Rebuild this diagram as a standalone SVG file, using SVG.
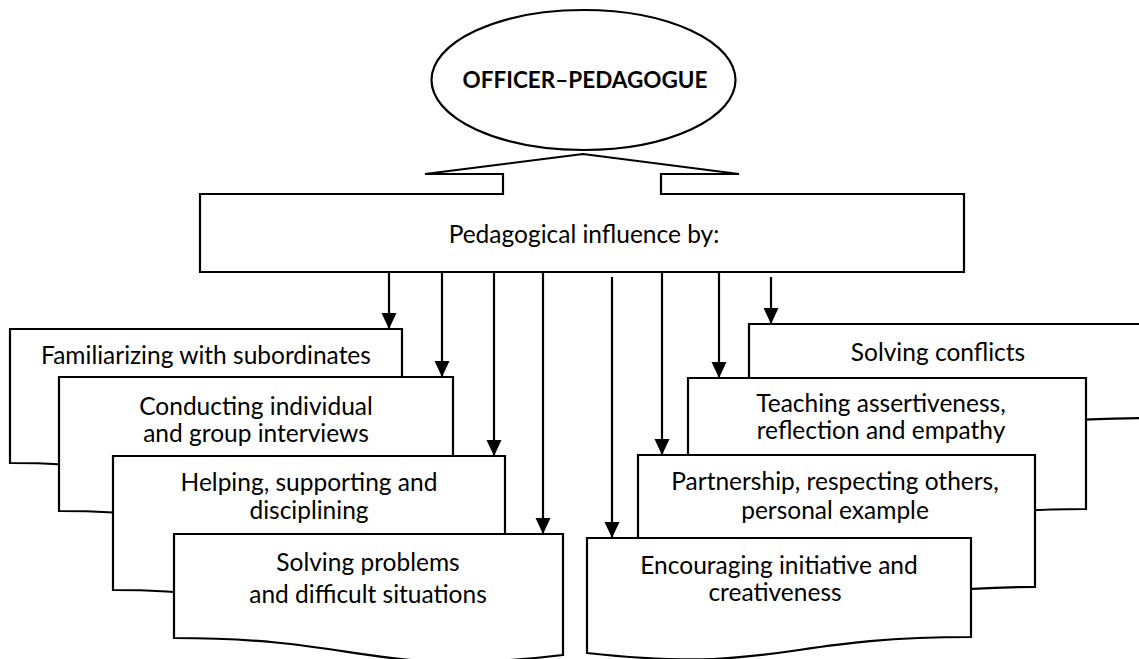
<svg xmlns="http://www.w3.org/2000/svg" width="1139" height="659" viewBox="0 0 1139 659">
  <style>
    .shape { fill: #fff; stroke: #000; stroke-width: 2.2; stroke-linejoin: miter; }
    .lbl { font-family: Lato, "Liberation Sans", sans-serif; font-size: 24.5px; fill: #000; text-anchor: middle; }
    .title { font-family: Lato, "Liberation Sans", sans-serif; font-size: 22.5px; font-weight: bold; fill: #000; text-anchor: middle; }
    .conn { stroke: #000; stroke-width: 2.2; fill: none; marker-end: url(#head); }
  </style>
  <defs>
    <!-- filled triangular arrowhead, tip at the end of the line -->
    <marker id="head" markerUnits="userSpaceOnUse" markerWidth="16" markerHeight="16" viewBox="0 0 16 16" refX="16" refY="8" orient="auto">
      <path d="M0,0.5 L16,8 L0,15.5 Z" fill="#000"/>
    </marker>
  </defs>
  <rect width="1139" height="659" fill="#fff"/>

  <!-- central callout -->
  <g id="influence">
    <path class="shape" d="M200,194 H503 V174 H425 L583,154 L739,174 H661 V194 H964 V272 H200 Z"/>
    <text class="lbl" x="584" y="243">Pedagogical influence by:</text>
  </g>

  <g id="officer">
    <ellipse class="shape" cx="583.5" cy="80" rx="152" ry="70"/>
    <text class="title" x="585" y="88">OFFICER–PEDAGOGUE</text>
  </g>

  <!-- left stack, back to front -->
  <g id="familiarizing">
    <path class="shape" d="M10,329 H402 V485 C206,514 206,463 10,463 Z"/>
    <text class="lbl" x="206" y="364">Familiarizing with subordinates</text>
  </g>
  <g id="interviews">
    <path class="shape" d="M59,377 H453 V533 C256,562 256,511 59,511 Z"/>
    <text class="lbl" x="256" y="415">Conducting individual</text>
    <text class="lbl" x="256" y="442">and group interviews</text>
  </g>
  <g id="helping">
    <path class="shape" d="M113,456 H505 V612 C309,641 309,590 113,590 Z"/>
    <text class="lbl" x="309" y="491">Helping, supporting and</text>
    <text class="lbl" x="309" y="519">disciplining</text>
  </g>
  <g id="problems">
    <path class="shape" d="M174,534 H563 V655 C368,678 368,638 174,638 Z"/>
    <text class="lbl" x="368" y="571">Solving problems</text>
    <text class="lbl" x="368" y="603">and difficult situations</text>
  </g>

  <!-- right stack, back to front -->
  <g id="conflicts">
    <path class="shape" d="M749,324 H1150 V418 C950,418 950,454 749,433 Z"/>
    <text class="lbl" x="938" y="361">Solving conflicts</text>
  </g>
  <g id="assertiveness">
    <path class="shape" d="M688,378 H1086 V509 C887,509 887,558 688,530 Z"/>
    <text class="lbl" x="881" y="412">Teaching assertiveness,</text>
    <text class="lbl" x="881" y="439">reflection and empathy</text>
  </g>
  <g id="partnership">
    <path class="shape" d="M638,455 H1035 V587 C836,587 836,638 638,609 Z"/>
    <text class="lbl" x="835" y="490">Partnership, respecting others,</text>
    <text class="lbl" x="835" y="519">personal example</text>
  </g>
  <g id="initiative">
    <path class="shape" d="M587,538 H971 V637 C779,637 779,674 587,653 Z"/>
    <text class="lbl" x="779" y="574">Encouraging initiative and</text>
    <text class="lbl" x="775" y="601">creativeness</text>
  </g>

  <!-- connectors from the influence box -->
  <g id="connectors">
    <line class="conn" x1="389" y1="272" x2="389" y2="329"/>
    <line class="conn" x1="442" y1="272" x2="442" y2="377"/>
    <line class="conn" x1="494" y1="272" x2="494" y2="456"/>
    <line class="conn" x1="543" y1="272" x2="543" y2="534"/>
    <line class="conn" x1="612" y1="277" x2="612" y2="538"/>
    <line class="conn" x1="662" y1="272" x2="662" y2="455"/>
    <line class="conn" x1="719" y1="272" x2="719" y2="378"/>
    <line class="conn" x1="771" y1="277" x2="771" y2="324"/>
  </g>
</svg>
